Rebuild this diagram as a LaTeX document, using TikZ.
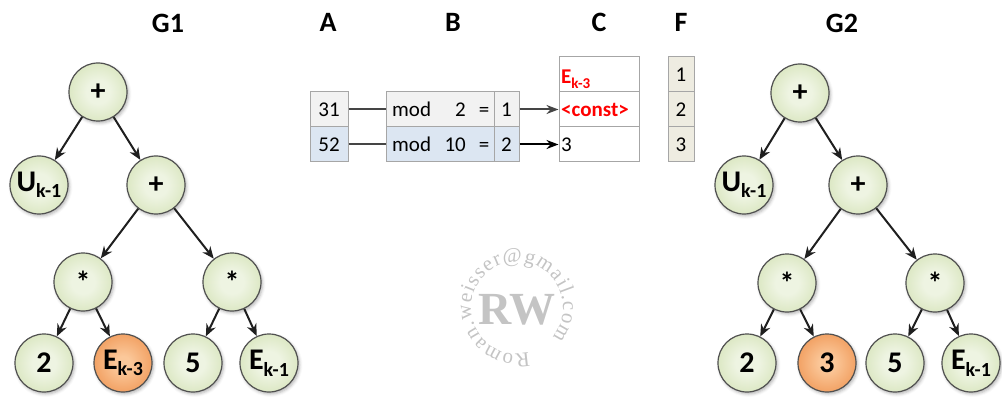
\documentclass[tikz,border=0pt]{standalone}
\usepackage{fontspec}
\setmainfont{Carlito}
\newfontfamily\wmserif{Liberation Serif}
\usetikzlibrary{arrows.meta,shadows.blur,decorations.text}

\definecolor{ballin}{HTML}{EEF4E2}
\definecolor{ballout}{HTML}{C4D79B}
\definecolor{hotin}{HTML}{FBC89A}
\definecolor{hotout}{HTML}{E8782A}
\definecolor{ballline}{HTML}{505050}
\definecolor{rowgray}{HTML}{F2F2F2}
\definecolor{rowblue}{HTML}{DCE6F2}
\definecolor{beige}{HTML}{EEECE1}
\definecolor{cellline}{HTML}{A6A6A6}
\definecolor{linkgray}{HTML}{454545}
\definecolor{wmgray}{HTML}{C4C4C4}

\pgfdeclareradialshading{greenball}{\pgfpoint{0bp}{0bp}}{color(0bp)=(ballin); color(10bp)=(ballin); color(46bp)=(ballout); color(50bp)=(ballout)}
\pgfdeclareradialshading{orangeball}{\pgfpoint{0bp}{0bp}}{color(0bp)=(hotin); color(6bp)=(hotin); color(46bp)=(hotout); color(50bp)=(hotout)}

\newcommand\lowidx[1]{\raisebox{-0.45ex}{\fontsize{20}{20}\selectfont #1}}

\tikzset{
  ball/.style={circle, minimum size=58pt, inner sep=0pt, draw=ballline,
    line width=1.2pt, shading=greenball,
    blur shadow={shadow xshift=1.5pt, shadow yshift=-2pt,
      shadow blur radius=3pt, shadow opacity=30},
    font=\fontsize{30}{32}\selectfont\bfseries},
  hotball/.style={ball, shading=orangeball},
  edge/.style={-{Stealth[length=12pt,width=10pt]}, line width=2pt, black!88},
  title/.style={font=\fontsize{28}{30}\selectfont\bfseries},
  cell/.style={draw=cellline, line width=1pt, minimum height=35pt,
    inner sep=0pt, text height=14pt, text depth=0pt,
    font=\fontsize{21}{23}\selectfont},
  txt/.style={inner sep=0pt, text height=14pt, text depth=0pt,
    font=\fontsize{21}{23}\selectfont},
  link/.style={line width=2pt, linkgray},
}

\begin{document}
\begin{tikzpicture}[x=1pt,y=-1pt]
\useasboundingbox (0,0) rectangle (1002,401);

% titles
\node[title] (tg1) at (168,23) {G1};
\node[title] (ta) at (328,22) {A};
\node[title] (tb) at (453,22) {B};
\node[title] (tc) at (599,22) {C};
\node[title] (tf) at (681,22) {F};
\node[title] (tg2) at (842,23) {G2};

% tree G1
\node[ball] (g1root) at (98,92) {+};
\node[ball] (g1u) at (39,185) {U\lowidx{k-1}};
\node[ball] (g1plus) at (156,185) {+};
\node[ball] (g1mulL) at (83,282) {*};
\node[ball] (g1mulR) at (232,282) {*};
\node[ball] (g1two) at (44,363) {2};
\node[hotball] (g1ek3) at (123,363) {E\lowidx{k-3}};
\node[ball] (g1five) at (193,363) {5};
\node[ball] (g1ek1) at (269,363) {E\lowidx{k-1}};

% tree G2
\node[ball] (g2root) at (800,93) {+};
\node[ball] (g2u) at (744,185) {U\lowidx{k-1}};
\node[ball] (g2plus) at (858,185) {+};
\node[ball] (g2mulL) at (787,283) {*};
\node[ball] (g2mulR) at (935,283) {*};
\node[ball] (g2two) at (747,363) {2};
\node[hotball] (g2three) at (827,363) {3};
\node[ball] (g2five) at (895,363) {5};
\node[ball] (g2ek1) at (971,363) {E\lowidx{k-1}};

\foreach \g/\a/\b in {g1/root/u, g1/root/plus, g1/plus/mulL, g1/plus/mulR,
    g1/mulL/two, g1/mulL/ek3, g1/mulR/five, g1/mulR/ek1,
    g2/root/u, g2/root/plus, g2/plus/mulL, g2/plus/mulR,
    g2/mulL/two, g2/mulL/three, g2/mulR/five, g2/mulR/ek1}
  \draw[edge] (\g\a) -- (\g\b);

% table A, B
\foreach \r/\y/\v/\n/\res/\col in {1/109.5/31/2/1/rowgray, 2/144.5/52/10/2/rowblue} {
  \node[cell, fill=\col, minimum width=38pt] (a\r) at (329,\y) {\v};
  \node[cell, fill=\col, minimum width=108pt] (b\r) at (440,\y) {};
  \node[cell, fill=\col, minimum width=25pt] (b\r r) at (506.5,\y) {\res};
  \node[txt, anchor=west] (b\r mod) at (392,\y) {mod};
  \node[txt, anchor=east] (b\r num) at (466,\y) {\n};
  \node[txt] (b\r eq) at (484,\y) {=};
}

% table C, F
\foreach \r/\y in {1/74.5, 2/109.5, 3/144.5} {
  \node[cell, fill=white, minimum width=80pt] (c\r) at (599,\y) {};
  \node[cell, fill=beige, minimum width=26pt] (f\r) at (681,\y) {\r};
}
\node[txt, anchor=west, red, font=\fontsize{21}{23}\selectfont\bfseries] (c1txt) at (561,77) {E\raisebox{-0.45ex}{\fontsize{15}{15}\selectfont k-3}};
\node[txt, anchor=west, red, font=\fontsize{21}{23}\selectfont\bfseries] (c2txt) at (561,109.5) {<const>};
\node[txt, anchor=west] (c3txt) at (561,144.5) {3};

\draw[link] (a1) -- (b1);
\draw[link] (a2) -- (b2);
\draw[link, -{Stealth[length=12pt,width=9pt]}] (b1r) -- (c2);
\draw[link, black, -{Stealth[length=12pt,width=9pt]}] (b2r) -- (c3);

% watermark
\node[wmgray, font=\wmserif\fontsize{46}{46}\selectfont\bfseries] (wmlogo) at (517,310) {RW};
\path[decorate, decoration={text along path, text align=fit to path,
    text={|\wmserif\fontsize{21}{21}\selectfont\color{wmgray}|Roman.weisser@gmail.com}}]
  (517,308) ++(-75:46pt) arc[start angle=-75, end angle=-400, radius=46pt];
\end{tikzpicture}
\end{document}
